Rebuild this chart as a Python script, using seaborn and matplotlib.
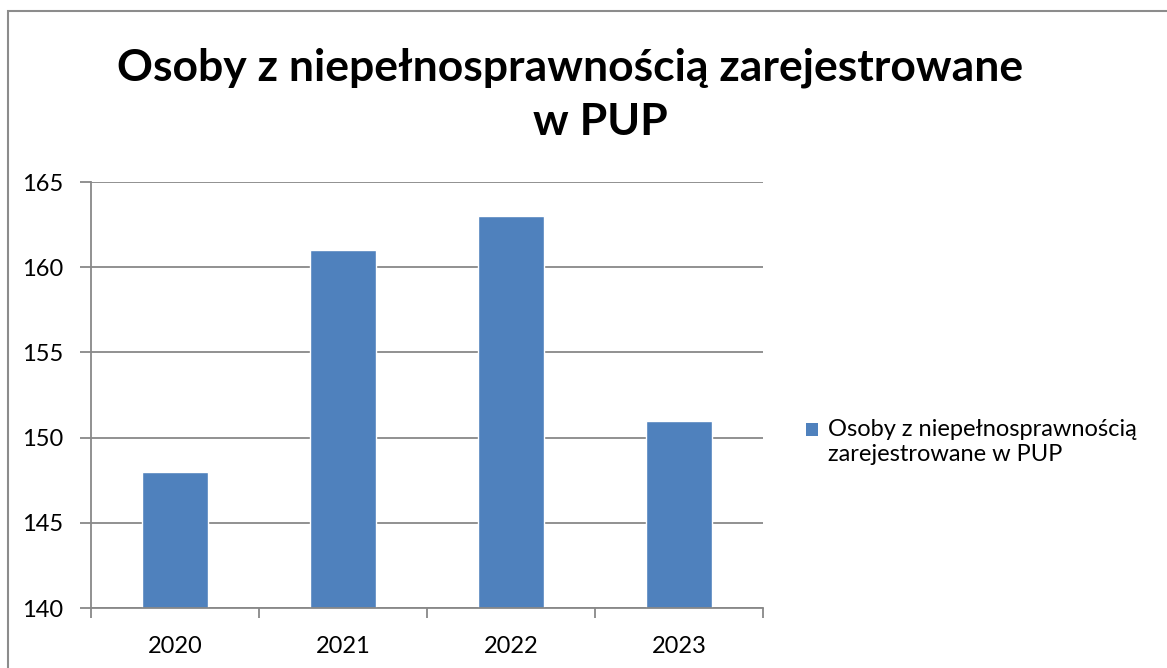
import matplotlib
matplotlib.use("Agg")
import matplotlib.pyplot as plt
import seaborn as sns
import pandas as pd
from matplotlib.patches import Rectangle

years = ["2020", "2021", "2022", "2023"]
values = [148, 161, 163, 151]
series_name = "Osoby z niepełnosprawnością zarejestrowane w PUP"
title_lines = ["Osoby z niepełnosprawnością zarejestrowane", "w PUP"]
legend_lines = ["Osoby z niepełnosprawnością", "zarejestrowane w PUP"]
y_ticks = [140, 145, 150, 155, 160, 165]

sns.set_theme(style="white")
plt.rcParams["font.family"] = ["Lato", "DejaVu Sans"]

W, H = 1167, 668
fig = plt.figure(figsize=(W / 100, H / 100), dpi=100)
fig.patch.set_facecolor("white")

# chart frame
fig.add_artist(Rectangle((8 / W, -0.1), 1.2, (H - 11) / H + 0.1, transform=fig.transFigure,
                         fill=False, edgecolor="#8c8c8c", linewidth=1.5))

left, right, top, bottom = 91, 763, 182, 608
ax = fig.add_axes([left / W, 1 - bottom / H, (right - left) / W, (bottom - top) / H])

df = pd.DataFrame({"year": years, "value": values})
sns.barplot(data=df, x="year", y="value", color="#4F81BD", saturation=1,
            width=0.39, ax=ax, zorder=3)

ax.set_ylim(140, 165)
ax.set_yticks(y_ticks)
ax.set_xlim(-0.5, len(years) - 0.5)
ax.set_xlabel("")
ax.set_ylabel("")
grid_c = "#888888"
ax.yaxis.grid(True, color=grid_c, linewidth=1.3, zorder=0)
ax.xaxis.grid(False)
for s in ["top", "right"]:
    ax.spines[s].set_visible(False)
for s in ["left", "bottom"]:
    ax.spines[s].set_color(grid_c)
    ax.spines[s].set_linewidth(1.3)
ax.spines["bottom"].set_zorder(4)

# x ticks sit on category boundaries
ax.set_xticks([i - 0.5 for i in range(len(years) + 1)], minor=True)
ax.tick_params(axis="x", which="minor", direction="out", length=7, width=1.3,
               color=grid_c, bottom=True)
ax.tick_params(axis="x", which="major", length=0, pad=20, labelsize=17, labelcolor="black")
ax.tick_params(axis="y", direction="out", length=8, width=1.3, color=grid_c, left=True,
               pad=12, labelsize=17, labelcolor="black")

# two-line title
fig.text(570 / W, 1 - 68 / H, title_lines[0], ha="center", va="center",
         fontsize=32, fontweight="bold", color="black")
fig.text(600 / W, 1 - 122 / H, title_lines[1], ha="center", va="center",
         fontsize=32, fontweight="bold", color="black")

# legend
fig.add_artist(Rectangle((806 / W, 1 - 436 / H), 12 / W, 13 / H, transform=fig.transFigure,
                         facecolor="#4F81BD", edgecolor="none"))
fig.text(828 / W, 1 - 442 / H, "\n".join(legend_lines),
         ha="left", va="center", fontsize=17, linespacing=1.25, color="black")

fig.savefig("out.png", dpi=100, facecolor="white")
